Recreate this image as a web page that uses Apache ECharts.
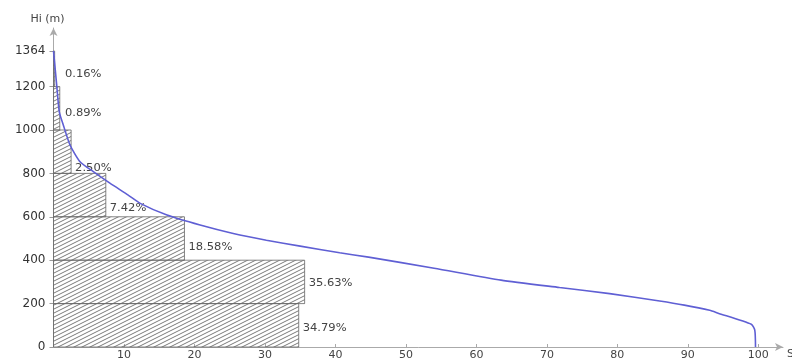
<!DOCTYPE html>
<html>
<head>
<meta charset="utf-8">
<script src="https://cdn.jsdelivr.net/npm/echarts@6/dist/echarts.min.js"></script>
<style>
  html, body { margin: 0; padding: 0; background: #fff; }
  #chart { width: 792px; height: 360px; }
</style>
</head>
<body>
<div id="chart"></div>
<script>
// Elevation bands (m) and the share of area (%) falling in each band
const bandLow   = [0, 200, 400, 600, 800, 1000, 1200];
const bandHigh  = [200, 400, 600, 800, 1000, 1200, 1364];
const bandShare = [34.79, 35.63, 18.58, 7.42, 2.50, 0.89, 0.16];

// Hypsometric curve: cumulative area S (%) against elevation Hi (m)
const curveS = [0, 0.45, 0.82, 1.39, 2.34, 3.76, 5.65, 8.0, 10.6, 12.3, 16.1, 20.8,
                25.5, 30.2, 35.0, 40.6, 44.7, 54.0, 63.5, 71.8, 78.9, 86.0, 89.5,
                93.1, 94.3, 99.0, 99.5, 99.6];
const curveH = [1364, 1208, 1084, 1023, 931, 854, 808, 755, 700, 662, 608, 562,
                523, 492, 465, 434, 414, 363, 308, 274, 246, 212, 193,
                169, 156, 105, 77, 0];

// Axis tick labels
const xTicks = [10, 20, 30, 40, 50, 60, 70, 80, 90, 100];
const yTicks = [0, 200, 400, 600, 800, 1000, 1200, 1364];

// Where each percentage label sits inside its band (fraction of band height)
const labelLift = [0.43, 0.47, 0.30, 0.20, 0.12, 0.38, 0.35];

// Shallow diagonal hatch tile (slope 1:2) for the band rectangles
function hatchTile() {
  const c = document.createElement('canvas');
  c.width = 8; c.height = 4;
  const g = c.getContext('2d');
  g.strokeStyle = '#6a6a6a';
  g.lineWidth = 0.9;
  g.beginPath();
  for (let k = -1; k <= 1; k++) {
    g.moveTo(-2, 5 + 4 * k);
    g.lineTo(10, -1 + 4 * k);
  }
  g.stroke();
  return c;
}
const hatch = hatchTile();

const font = '"DejaVu Sans", "Liberation Sans", Arial, sans-serif';
const chart = echarts.init(document.getElementById('chart'), null, { renderer: 'canvas' });

chart.setOption({
  animation: false,
  backgroundColor: '#fff',
  grid: { left: 53.5, right: 9, top: 28, bottom: 13, containLabel: false, outerBoundsMode: 'none' },
  xAxis: {
    type: 'value', min: 0, max: 103.5, interval: 10,
    name: 'S (%)', nameLocation: 'end', nameGap: 4,
    nameTextStyle: { color: '#444', fontSize: 11, fontFamily: font, verticalAlign: 'top', padding: [2, 0, 0, 0] },
    axisLine: { show: true, lineStyle: { color: '#aaa', width: 1 }, symbol: ['none', 'arrow'], symbolSize: [6, 8] },
    axisTick: { show: true, inside: true, length: 3, lineStyle: { color: '#aaa' }, customValues: xTicks },
    axisLabel: {
      color: '#444', fontSize: 11, fontFamily: font, margin: 3, customValues: xTicks,
      formatter: v => String(v)
    },
    splitLine: { show: false }
  },
  yAxis: {
    type: 'value', min: 0, max: 1470, interval: 200,
    name: 'Hi (m)', nameLocation: 'end', nameGap: 3,
    nameTextStyle: { color: '#444', fontSize: 11, fontFamily: font, padding: [0, 12, 0, 0] },
    axisLine: { show: true, lineStyle: { color: '#aaa', width: 1 }, symbol: ['none', 'arrow'], symbolSize: [6, 8] },
    axisTick: { show: true, length: 4, lineStyle: { color: '#999' }, customValues: yTicks },
    axisLabel: { color: '#333', fontSize: 12, fontFamily: font, margin: 8, customValues: yTicks,
      formatter: v => String(v) },
    splitLine: { show: false }
  },
  series: [
    {
      type: 'custom',
      z: 1,
      data: bandShare.map((s, i) => [s, bandLow[i], bandHigh[i]]),
      renderItem: function (params, api) {
        const share = api.value(0), low = api.value(1), high = api.value(2);
        const tl = api.coord([0, high]);
        const br = api.coord([share, low]);
        const lift = labelLift[params.dataIndex];
        const ty = api.coord([0, low + lift * (high - low)])[1];
        const tx = Math.max(br[0] + 4, 65);
        return {
          type: 'group',
          children: [
            {
              type: 'rect',
              shape: { x: tl[0], y: tl[1], width: br[0] - tl[0], height: br[1] - tl[1] },
              style: { fill: { image: hatch, repeat: 'repeat' }, stroke: '#666', lineWidth: 0.8 }
            },
            {
              type: 'text',
              x: tx, y: ty, scaleX: 1.15,
              style: {
                text: share.toFixed(2) + '%',
                fill: '#444', font: '10px ' + font,
                textAlign: 'left', textVerticalAlign: 'middle'
              }
            }
          ]
        };
      }
    },
    {
      type: 'line',
      z: 3,
      data: curveS.map((s, i) => [s, curveH[i]]),
      showSymbol: false,
      smooth: 0.2,
      lineStyle: { color: '#5f5fd4', width: 1.6 }
    }
  ]
});
</script>
</body>
</html>
